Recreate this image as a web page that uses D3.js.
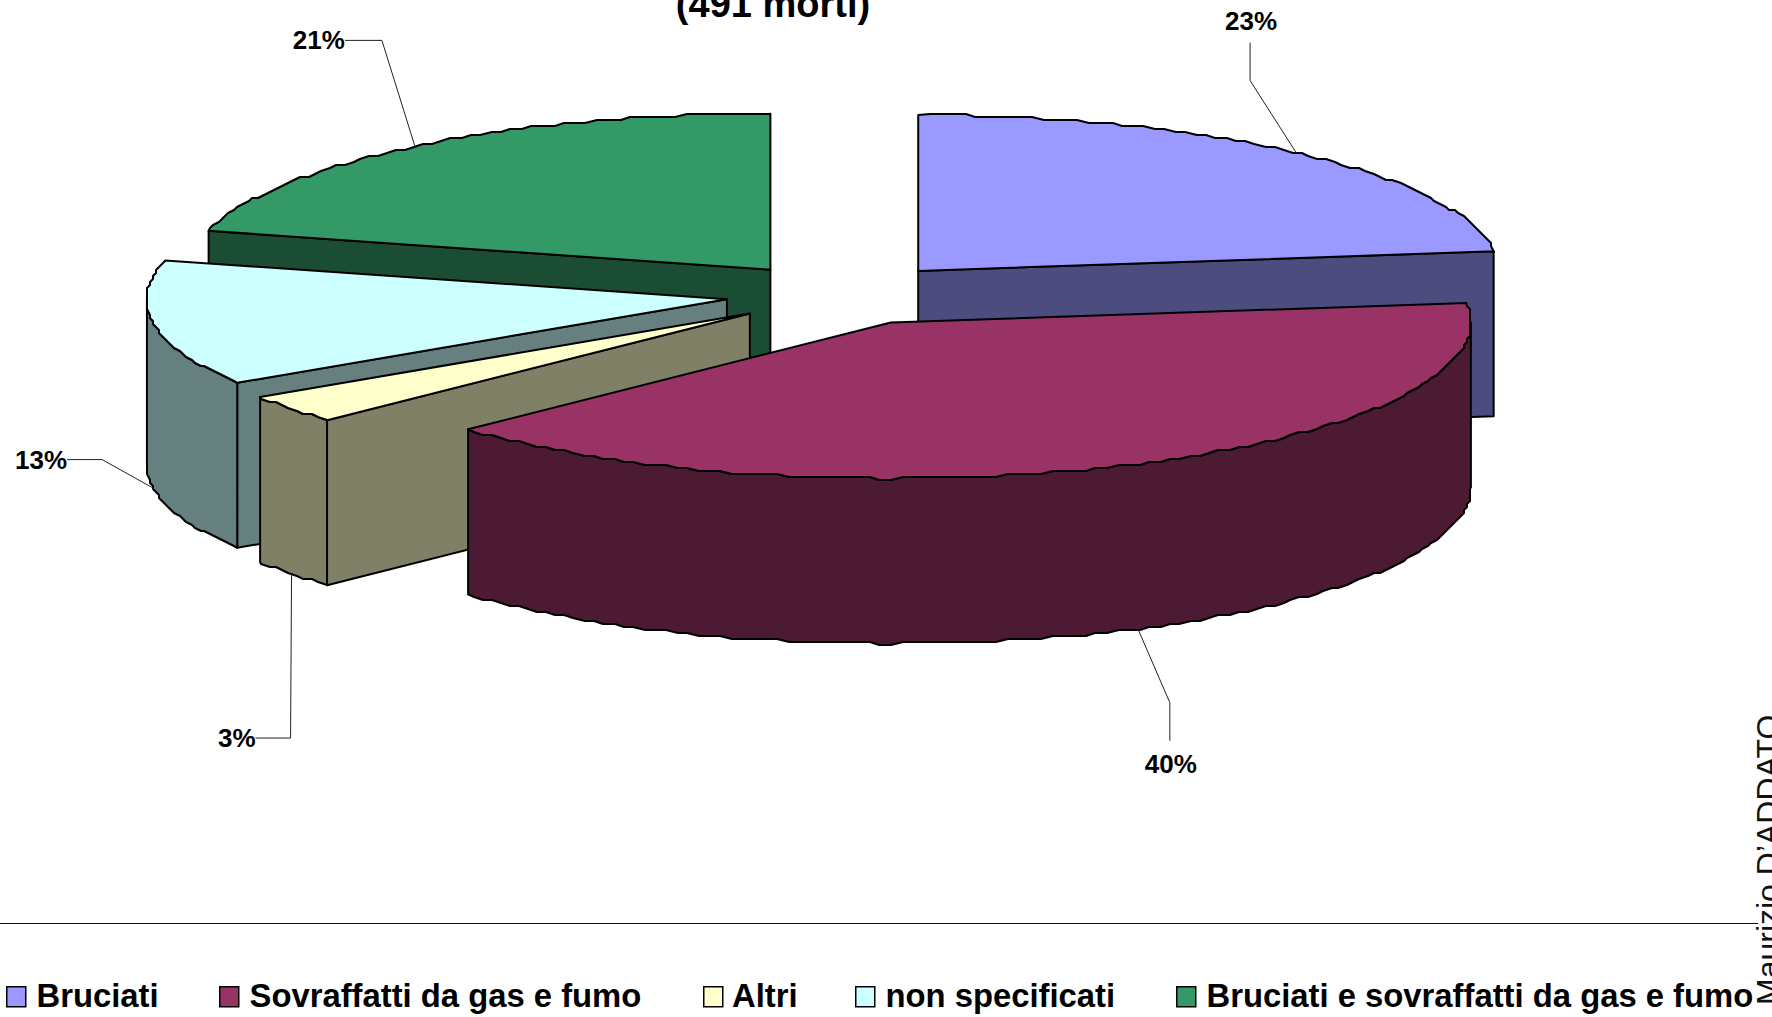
<!DOCTYPE html>
<html><head><meta charset="utf-8">
<script src="https://cdn.jsdelivr.net/npm/d3@7"></script>
<style>html,body{margin:0;padding:0;background:#fff;overflow:hidden}svg{display:block}text{font-family:"Liberation Sans",Arial,sans-serif}</style>
</head><body><svg id="c" width="1772" height="1017"></svg>
<script>
const categories = ["Bruciati","Sovraffatti da gas e fumo","Altri","non specificati","Bruciati e sovraffatti da gas e fumo"];
const values = [23,40,3,13,21];
const topColors = ["#9999FF","#993366","#FFFFCC","#CCFFFF","#339966"];
const sideColors = ["#4C4C7F","#4C1A33","#808066","#667F7F","#1A4D33"];
const titleText = "(491 morti)";
const creditText = "Maurizio D\u2019ADDATO";
const drawOrder = [0,4,3,2,1];
const labelOffsets = [[-46,-72,-38],[32,74,38],[-1,164,0],[-52,-29,0],[-33,-106,0]]; // elbow dx, elbow dy, end dy per slice
const labelEndDx = [0,0,-35,-35,-37];
const anchorShift = [-0.013,0,0,0,0];
const explode = 0.2, grid = 3, sampling = 50;

const svg = d3.select("#c");
const px = d3.scaleLinear().domain([-1,1]).range([841.5-580, 841.5+580]);
const py = d3.scaleLinear().domain([-1,1]).range([294.3+156, 294.3-156]);
const depth = 165;
const slices = d3.pie().sort(null).startAngle(0).endAngle(2*Math.PI)(values);

function centre(s){const m=(s.startAngle+s.endAngle)/2;return [explode*Math.sin(m),explode*Math.cos(m)];}
function pt(s,a,dy=0){const c=centre(s);return [px(c[0]+Math.sin(a)),py(c[1]+Math.cos(a))+dy];}
function arcPts(s,a0,a1,dy=0){
  const out=[pt(s,a0,dy)];
  for(let k=Math.floor(a0*sampling)+1;k/sampling<a1;k++){const p=pt(s,k/sampling,dy);
    const q=[Math.round(p[0]/grid)*grid,Math.round((p[1]-dy)/grid)*grid+dy];
    const l=out[out.length-1]; if(q[0]!==l[0]||q[1]!==l[1]) out.push(q);}
  out.push(pt(s,a1,dy));return out;}
const line=d3.line().curve(d3.curveLinearClosed);
const open=d3.line();
function poly(g,pts,fill){g.append("path").attr("d",line(pts)).attr("fill",fill).attr("stroke","#000").attr("stroke-width",2).attr("stroke-linejoin","round");}

const pieG=svg.append("g");
drawOrder.forEach(i=>{
  const s=slices[i],g=pieG.append("g"),side=sideColors[i],c=centre(s);
  const apex=[px(c[0]),py(c[1])];
  const face=a=>{const p=pt(s,a);poly(g,[apex,p,[p[0],p[1]+depth],[apex[0],apex[1]+depth]],side);};
  if(Math.sin(s.startAngle)<-1e-6) face(s.startAngle);
  if(Math.sin(s.endAngle)>1e-6) face(s.endAngle);
  const a0=Math.max(s.startAngle,Math.PI/2),a1=Math.min(s.endAngle,3*Math.PI/2);
  if(a1>a0){const up=arcPts(s,a0,a1),dn=arcPts(s,a0,a1,depth).reverse();poly(g,up.concat(dn),side);}
  poly(g,[apex].concat(arcPts(s,s.startAngle,s.endAngle)),topColors[i]);
});

// leaders and percentage labels
slices.forEach((s,i)=>{
  const m=(s.startAngle+s.endAngle)/2+anchorShift[i], front=Math.cos(m)<0||i===3;
  const a=pt(s,m,front?depth:0), o=labelOffsets[i];
  const elbow=[a[0]+o[0],a[1]+o[1]], end=[elbow[0]+labelEndDx[i],elbow[1]+o[2]];
  svg.append("path").attr("d",open([a,elbow,end])).attr("fill","none").attr("stroke","#222").attr("stroke-width",1);
  const vert=labelEndDx[i]===0, dir=o[2]<0?-1:1;
  svg.append("text").attr("font-size",26).attr("font-weight","bold").attr("fill","#000")
    .attr("text-anchor",vert?"middle":"end")
    .attr("x",vert?end[0]+1:end[0]).attr("y",vert?(dir<0?end[1]-13:end[1]+32):end[1]+9)
    .text(values[i]+"%");
});

svg.append("text").attr("x",773).attr("y",17).attr("text-anchor","middle").attr("font-size",38).attr("font-weight","bold").text(titleText);

// legend rule
svg.append("line").attr("x1",0).attr("x2",1758).attr("y1",923.5).attr("y2",923.5).attr("stroke","#111").attr("stroke-width",1.2);

// legend
const legendX=[6,219,703,855,1176];
const lg=svg.append("g").selectAll("g").data(categories).join("g").attr("transform",(d,i)=>`translate(${legendX[i]},986)`);
lg.append("rect").attr("x",.75).attr("y",.75).attr("width",19).attr("height",20).attr("fill",(d,i)=>topColors[i]).attr("stroke","#000").attr("stroke-width",1.5);
lg.append("text").attr("x",(d,i)=>i===2?29:30.5).attr("y",21).attr("font-size",32.8).attr("font-weight","bold").text(d=>d);

// rotated credit
svg.append("text").attr("transform","translate(1779,1005) rotate(-90)").attr("font-size",32).attr("fill","#111").text(creditText);
</script></body></html>
